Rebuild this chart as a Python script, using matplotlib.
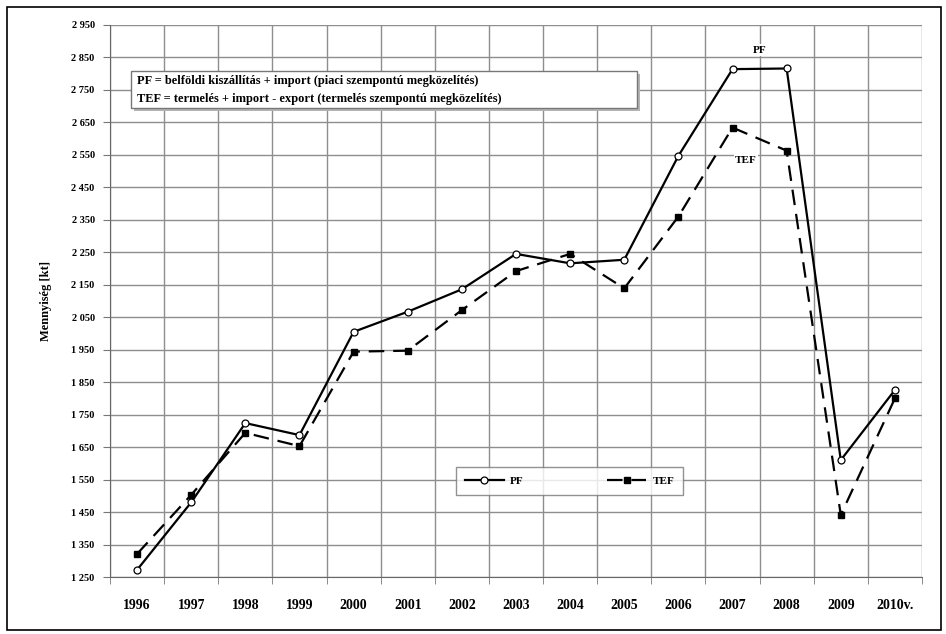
import matplotlib
matplotlib.use("Agg")
import matplotlib.pyplot as plt
from matplotlib.patches import Rectangle
from matplotlib.ticker import FixedLocator

plt.rcParams["font.family"] = ["Liberation Serif", "DejaVu Serif"]
plt.rcParams["font.weight"] = "bold"

# évek és a két mennyiségi sor (kt)
years = ["1996", "1997", "1998", "1999", "2000", "2001", "2002", "2003",
         "2004", "2005", "2006", "2007", "2008", "2009", "2010v."]
pf = [1272, 1480, 1724, 1687, 2005, 2067, 2136, 2245,
      2216, 2227, 2547, 2814, 2816, 1610, 1826]
tef = [1321, 1503, 1694, 1653, 1944, 1947, 2072, 2192,
       2245, 2139, 2360, 2634, 2563, 1441, 1800]
y_ticks = list(range(1250, 2951, 100))

fig = plt.figure(figsize=(9.46, 6.34), dpi=100)
ax = fig.add_axes([0.1163, 0.0899, 0.8583, 0.8707])

# külső keret
fig.patches.append(Rectangle((0.0074, 0.0063), 0.9874, 0.9826, transform=fig.transFigure,
                             fill=False, edgecolor="black", linewidth=1.2))

x = list(range(len(years)))
ax.plot(x, pf, color="black", linewidth=1.6, marker="o", markersize=5,
        markerfacecolor="white", markeredgecolor="black", markeredgewidth=0.9,
        label="PF", zorder=4)
ax.plot(x, tef, color="black", linewidth=1.6, linestyle=(0, (7, 4)), marker="s",
        markersize=4, markerfacecolor="black", markeredgecolor="black",
        label="TEF", zorder=3)

ax.set_xlim(-0.5, len(years) - 0.5)
ax.set_ylim(1250, 2950)
ax.set_xticks(x)
ax.set_xticklabels(years, fontsize=10, fontweight="bold")
ax.xaxis.set_minor_locator(FixedLocator([i + 0.5 for i in range(-1, len(years))]))
ax.tick_params(axis="x", which="major", length=0, pad=16)
ax.tick_params(axis="x", which="minor", length=5, color="#777777")
ax.set_yticks(y_ticks)
ax.set_yticklabels([f"{v:,}".replace(",", " ") for v in y_ticks], fontsize=7.5, fontweight="bold")
ax.tick_params(axis="y", length=5, color="#777777", pad=6)

ax.grid(True, axis="y", color="#8e8e8e", linewidth=1)
ax.grid(True, axis="x", which="minor", color="#8e8e8e", linewidth=1)
ax.set_axisbelow(True)
for side in ["top", "right"]:
    ax.spines[side].set_visible(False)
ax.spines["left"].set_color("#666666")
ax.spines["bottom"].set_color("#666666")

ax.set_ylabel("Mennyiség [kt]", fontsize=9, fontweight="bold", labelpad=14)

# magyarázó doboz árnyékkal
ax.add_patch(Rectangle((0.0296, 0.844), 0.623, 0.067, transform=ax.transAxes,
                       facecolor="#b4b4b4", edgecolor="none", zorder=5))
ax.add_patch(Rectangle((0.0259, 0.8496), 0.623, 0.067, transform=ax.transAxes,
                       facecolor="white", edgecolor="#777777", linewidth=1.0, zorder=6))
ax.text(0.033, 0.899, "PF = belföldi kiszállítás + import (piaci szempontú megközelítés)",
        transform=ax.transAxes, fontsize=8.9, fontweight="bold", va="center", ha="left", zorder=7)
ax.text(0.033, 0.866, "TEF = termelés + import - export (termelés szempontú megközelítés)",
        transform=ax.transAxes, fontsize=8.9, fontweight="bold", va="center", ha="left", zorder=7)

ax.text(11.5, 2872, "PF", fontsize=8, fontweight="bold", ha="center", va="center",
        bbox=dict(facecolor="white", edgecolor="none", pad=1), zorder=5)
ax.text(11.25, 2534, "TEF", fontsize=8, fontweight="bold", ha="center", va="center",
        bbox=dict(facecolor="white", edgecolor="none", pad=1), zorder=5)

leg = ax.legend(loc="center", bbox_to_anchor=(0.566, 0.174), ncol=2, frameon=True,
                fancybox=False, edgecolor="#777777", fontsize=8, handlelength=3.5,
                columnspacing=7.5, borderpad=0.8, handletextpad=0.6)
leg.get_frame().set_linewidth(1.0)
for t in leg.get_texts():
    t.set_fontweight("bold")

fig.savefig("out.png", dpi=100, facecolor="white")
